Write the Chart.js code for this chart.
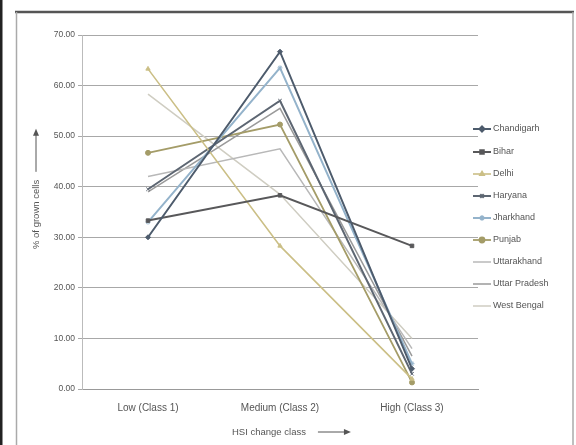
<!DOCTYPE html>
<html>
<head>
<meta charset="utf-8">
<script src="https://cdn.jsdelivr.net/npm/chart.js@4.4.1/dist/chart.umd.min.js"></script>
<style>
html,body{margin:0;padding:0;background:#fff;}
#wrap{position:relative;width:576px;height:445px;}
</style>
</head>
<body>
<div id="wrap"><canvas id="c" width="576" height="445"></canvas></div>
<script>
const categories = ["Low (Class 1)", "Medium (Class 2)", "High (Class 3)"];
const seriesNames = ["Chandigarh","Bihar","Delhi","Haryana","Jharkhand","Punjab","Uttarakhand","Uttar Pradesh","West Bengal"];
const chandigarh   = [30.0, 66.7, 4.0];
const bihar        = [33.3, 38.3, 28.3];
const delhi        = [63.3, 28.3, 2.0];
const haryana      = [39.5, 57.0, 3.0];
const jharkhand    = [33.0, 63.5, 5.0];
const punjab       = [46.7, 52.3, 1.3];
const uttarakhand  = [42.0, 47.5, 8.0];
const uttarPradesh = [39.0, 55.5, 6.5];
const westBengal   = [58.3, 38.5, 10.0];
const yTicks = [0, 10, 20, 30, 40, 50, 60, 70];

const seriesValues = [chandigarh, bihar, delhi, haryana, jharkhand, punjab, uttarakhand, uttarPradesh, westBengal];
const colors = ["#4d5b6c","#58585a","#cbbf86","#5d6672","#94b3cb","#a49c68","#b8b8b8","#9a9a9a","#cfcdc2"];
const markers = ["rectRot","rect","triangle","crossRot","star","circle",false,false,false];
const widths = [2,2,1.6,2,2,1.8,1.5,1.5,1.5];
const FONT = '"Liberation Sans", Arial, sans-serif';

const datasets = seriesNames.map((n,i)=>({
  label:n,
  data:seriesValues[i],
  borderColor:colors[i],
  backgroundColor:colors[i],
  borderWidth:widths[i],
  pointStyle:markers[i]||'circle',
  pointRadius:markers[i]?2.5:0,
  pointBorderWidth:1,
  tension:0
}));

const framePlugin = {
  id:'frame',
  afterDraw(chart){
    const ctx = chart.ctx;
    ctx.save();
    ctx.fillStyle='#222';
    ctx.fillRect(0,0,2.5,445);
    ctx.strokeStyle='#555';
    ctx.lineWidth=2.5;
    ctx.beginPath();ctx.moveTo(15,12);ctx.lineTo(574,12);ctx.stroke();
    ctx.strokeStyle='#aaa';
    ctx.lineWidth=1.5;
    ctx.beginPath();ctx.moveTo(16.5,12);ctx.lineTo(16.5,445);ctx.stroke();
    ctx.beginPath();ctx.moveTo(573,12);ctx.lineTo(573,445);ctx.stroke();
    // y title with arrow
    ctx.fillStyle='#555';
    ctx.font='9.5px '+FONT;
    ctx.translate(36,249);
    ctx.rotate(-Math.PI/2);
    ctx.textAlign='left';ctx.textBaseline='middle';
    const t='% of grown cells';
    ctx.fillText(t,0,0);
    const w=ctx.measureText(t).width;
    ctx.strokeStyle='#555';ctx.lineWidth=1;
    ctx.beginPath();ctx.moveTo(w+8,0);ctx.lineTo(w+46,0);ctx.stroke();
    ctx.beginPath();ctx.moveTo(w+51,0);ctx.lineTo(w+44,-3);ctx.lineTo(w+44,3);ctx.closePath();ctx.fill();
    ctx.setTransform(1,0,0,1,0,0);
    // x title with arrow
    const xt='HSI change class';
    ctx.font='9.5px '+FONT;
    ctx.textAlign='left';
    ctx.fillText(xt,232,432);
    const xw=ctx.measureText(xt).width;
    ctx.beginPath();ctx.moveTo(232+xw+12,432);ctx.lineTo(232+xw+40,432);ctx.stroke();
    ctx.beginPath();ctx.moveTo(232+xw+45,432);ctx.lineTo(232+xw+38,429);ctx.lineTo(232+xw+38,435);ctx.closePath();ctx.fill();
    // legend
    const ys=[129,152,174,196,218,240,262,284,306];
    chart.data.datasets.forEach((ds,i)=>{
      const y=ys[i];
      ctx.strokeStyle=ds.borderColor;ctx.lineWidth=ds.borderWidth;
      ctx.beginPath();ctx.moveTo(473,y);ctx.lineTo(491,y);ctx.stroke();
      if(markers[i]){
        ctx.save();ctx.fillStyle=ds.borderColor;ctx.strokeStyle=ds.borderColor;
        Chart.helpers.drawPoint(ctx,{pointStyle:markers[i],radius:2.5,borderWidth:1,rotation:0},482,y);
        ctx.fill();ctx.restore();
      }
      ctx.fillStyle='#555';
      ctx.font='9px '+FONT;
      ctx.textAlign='left';ctx.textBaseline='middle';
      ctx.fillText(ds.label,493,y);
    });
    ctx.restore();
  }
};

new Chart(document.getElementById('c'),{
  type:'line',
  data:{labels:categories,datasets},
  options:{
    responsive:false,
    animation:false,
    layout:{padding:{left:0,right:98,top:35,bottom:0}},
    plugins:{legend:{display:false},tooltip:{enabled:false}},
    scales:{
      x:{
        offset:true,
        grid:{display:false,drawTicks:false},
        border:{display:true,color:'#999'},
        ticks:{color:'#555',font:{size:10,family:FONT},padding:13,maxRotation:0},
        afterFit(s){s.height=56;}
      },
      y:{
        min:0,max:70,
        afterBuildTicks(s){s.ticks=yTicks.map(v=>({value:v}));},
        grid:{color:'#a8a8a8',lineWidth:1,tickLength:4},
        border:{display:true,color:'#bbb'},
        ticks:{color:'#555',font:{size:8.5,family:FONT},padding:3,callback:v=>Number(v).toFixed(2)},
        afterFit(s){s.width=82;}
      }
    }
  },
  plugins:[framePlugin]
});
</script>
</body>
</html>
